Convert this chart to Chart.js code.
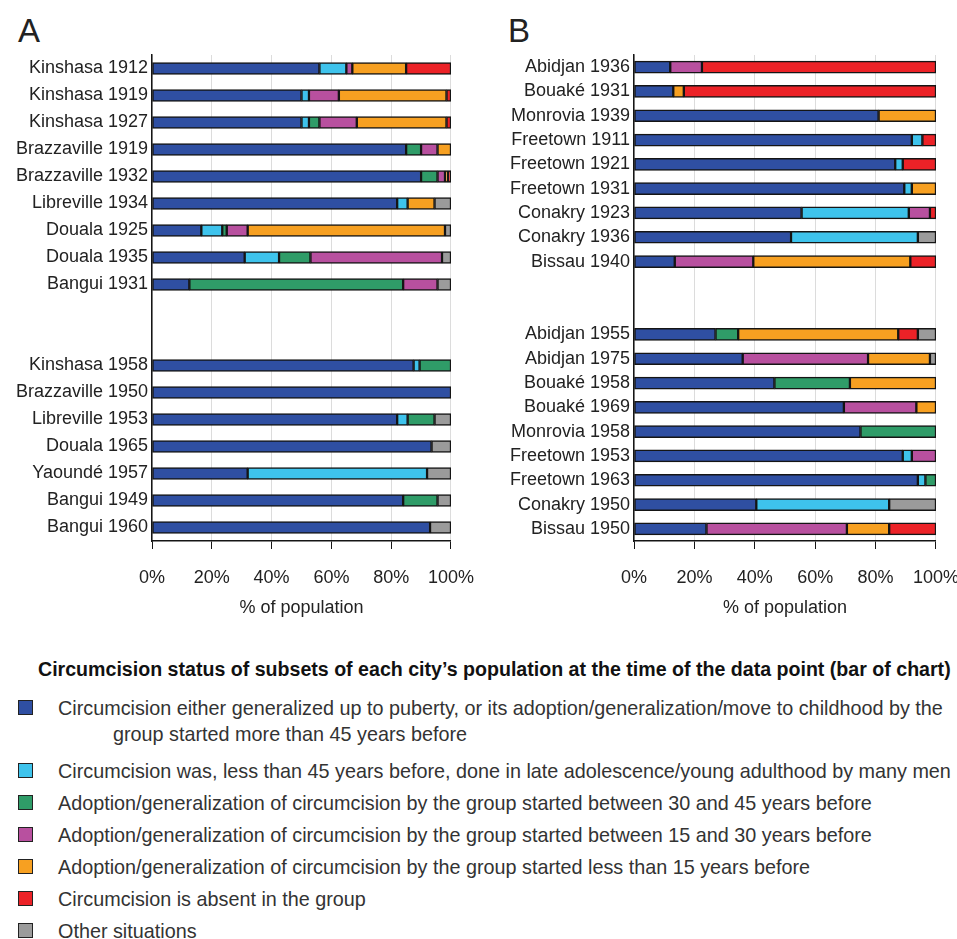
<!DOCTYPE html>
<html>
<head>
<meta charset="utf-8">
<style>
  body { margin: 0; background: #fff; font-family: "Liberation Sans", Arial, sans-serif; }
  #page { position: relative; width: 957px; height: 939px; overflow: hidden; }
  .panel { position: absolute; font-size: 33px; color: #222; }
  canvas { position: absolute; top: 0; }
  #legend { position: absolute; left: 18px; top: 658px; width: 939px; color: #333; font-size: 19.8px; }
  #legend h3 { margin: 0 0 14px 20px; font-size: 19.6px; color: #111; font-weight: bold; white-space: nowrap; }
  .item { position: relative; padding-left: 40px; line-height: 26px; margin-bottom: 6px; white-space: nowrap; }
  .item.first { margin-bottom: 11px; }
  .item .sw { position: absolute; left: 0; top: 5px; width: 13px; height: 13px; border: 1.5px solid #222; }
  .item .second { display: block; padding-left: 55px; }
</style>
</head>
<body>
<div id="page">
  <div class="panel" style="left:18px; top:12px;">A</div>
  <div class="panel" style="left:508px; top:12px;">B</div>
  <canvas id="chartA" width="492" height="619" style="left:0px;"></canvas>
  <canvas id="chartB" width="497" height="619" style="left:480px;"></canvas>
  <div id="legend"></div>
</div>

<script src="https://cdn.jsdelivr.net/npm/chart.js"></script>
<script type="text/javascript">
    // status categories (legend order) and colours
    const statusNames = [
        'Circumcision either generalized up to puberty, or its adoption/generalization/move to childhood by the|group started more than 45 years before',
        'Circumcision was, less than 45 years before, done in late adolescence/young adulthood by many men',
        'Adoption/generalization of circumcision by the group started between 30 and 45 years before',
        'Adoption/generalization of circumcision by the group started between 15 and 30 years before',
        'Adoption/generalization of circumcision by the group started less than 15 years before',
        'Circumcision is absent in the group',
        'Other situations'
    ];
    const statusColors = ['#2f4fa2', '#3ec3ec', '#2f9c68', '#b8509f', '#f7a021', '#ec2227', '#9b9b9b'];

    // panel A (empty labels = gap between periods)
    const citiesA = ['Kinshasa 1912', 'Kinshasa 1919', 'Kinshasa 1927', 'Brazzaville 1919', 'Brazzaville 1932',
        'Libreville 1934', 'Douala 1925', 'Douala 1935', 'Bangui 1931', '', '',
        'Kinshasa 1958', 'Brazzaville 1950', 'Libreville 1953', 'Douala 1965', 'Yaoundé 1957', 'Bangui 1949', 'Bangui 1960'];
    const blueA    = [56, 50, 50, 85, 90, 82, 16.5, 31, 12.5, 0, 0, 87.5, 100, 82, 93.5, 32, 84, 93];
    const cyanA    = [9, 2.5, 2.5, 0, 0, 3.5, 7, 11.5, 0, 0, 0, 2, 0, 3.5, 0, 60, 0, 0];
    const greenA   = [0, 0, 3.5, 5, 5.5, 0, 1.5, 10.5, 71.5, 0, 0, 10.5, 0, 9, 0, 0, 11.5, 0];
    const magentaA = [2, 10, 12.5, 5.5, 2.5, 0, 7, 44, 11.5, 0, 0, 0, 0, 0, 0, 0, 0, 0];
    const orangeA  = [18, 36, 30, 4.5, 1, 9, 66, 0, 0, 0, 0, 0, 0, 0, 0, 0, 0, 0];
    const redA     = [15, 1.5, 1.5, 0, 1, 0, 0, 0, 0, 0, 0, 0, 0, 0, 0, 0, 0, 0];
    const grayA    = [0, 0, 0, 0, 0, 5.5, 2, 3, 4.5, 0, 0, 0, 0, 5.5, 6.5, 8, 4.5, 7];

    // panel B
    const citiesB = ['Abidjan 1936', 'Bouaké 1931', 'Monrovia 1939', 'Freetown 1911', 'Freetown 1921', 'Freetown 1931',
        'Conakry 1923', 'Conakry 1936', 'Bissau 1940', '', '',
        'Abidjan 1955', 'Abidjan 1975', 'Bouaké 1958', 'Bouaké 1969', 'Monrovia 1958', 'Freetown 1953',
        'Freetown 1963', 'Conakry 1950', 'Bissau 1950'];
    const blueB    = [12, 13, 81, 92, 86.5, 89.5, 55.5, 52, 13.5, 0, 0, 27, 36, 46.5, 69.5, 75, 89, 94, 40.5, 24];
    const cyanB    = [0, 0, 0, 3.5, 2.5, 2.5, 35.5, 42, 0, 0, 0, 0, 0, 0, 0, 0, 3, 2.5, 44, 0];
    const greenB   = [0, 0, 0, 0, 0, 0, 0, 0, 0, 0, 0, 7.5, 0, 25, 0, 25, 0, 3.5, 0, 0];
    const magentaB = [10.5, 0, 0, 0, 0, 0, 7, 0, 26, 0, 0, 0, 41.5, 0, 24, 0, 8, 0, 0, 46.5];
    const orangeB  = [0, 3.5, 19, 0, 0, 8, 0, 0, 52, 0, 0, 53, 20.5, 28.5, 6.5, 0, 0, 0, 0, 14];
    const redB     = [77.5, 83.5, 0, 4.5, 11, 0, 2, 0, 8.5, 0, 0, 6.5, 0, 0, 0, 0, 0, 0, 0, 15.5];
    const grayB    = [0, 0, 0, 0, 0, 0, 0, 6, 0, 0, 0, 6, 2, 0, 0, 0, 0, 0, 15.5, 0];

    const xTicks = [0, 20, 40, 60, 80, 100];
    const fontName = '"Liberation Sans", Arial, sans-serif';

    function buildChart(id, labels, series, yWidth) {
        let datasets = series.map((values, i) => ({
            label: statusNames[i].split('|').join(' '),
            data: values.map(v => v === 0 ? null : v),
            backgroundColor: statusColors[i],
            borderColor: '#151515',
            borderWidth: 1.5,
            borderSkipped: false,
            barThickness: 12
        }));
        return new Chart(document.getElementById(id), {
            type: 'bar',
            data: { labels: labels, datasets: datasets },
            options: {
                indexAxis: 'y',
                responsive: false,
                animation: false,
                layout: { padding: { top: 55, right: 0, bottom: 0, left: 0 } },
                plugins: { legend: { display: false }, tooltip: { enabled: false } },
                scales: {
                    x: {
                        stacked: true,
                        min: 0,
                        max: 100,
                        afterBuildTicks: (axis) => { axis.ticks = xTicks.map(v => ({ value: v })); },
                        afterFit: (axis) => { axis.height = 78; },
                        ticks: {
                            callback: (v) => v + '%',
                            color: '#222',
                            padding: 18,
                            maxRotation: 0,
                            font: { family: fontName, size: 18 }
                        },
                        grid: { color: '#dcdcdc', tickColor: '#151515', tickLength: 8, lineWidth: 1 },
                        border: { color: '#151515', width: 1.5 },
                        title: {
                            display: true,
                            text: '% of population',
                            color: '#222',
                            padding: 0,
                            font: { family: fontName, size: 18 }
                        }
                    },
                    y: {
                        stacked: true,
                        afterFit: (axis) => { axis.width = yWidth; },
                        ticks: { color: '#222', padding: 4, autoSkip: false, font: { family: fontName, size: 18 } },
                        grid: { drawOnChartArea: false, drawTicks: false },
                        border: { color: '#151515', width: 1.5 }
                    }
                }
            }
        });
    }

    buildChart('chartA', citiesA, [blueA, cyanA, greenA, magentaA, orangeA, redA, grayA], 152);
    buildChart('chartB', citiesB, [blueB, cyanB, greenB, magentaB, orangeB, redB, grayB], 154);

    // legend below the two panels
    let legend = document.getElementById('legend');
    let h = document.createElement('h3');
    h.textContent = 'Circumcision status of subsets of each city\u2019s population at the time of the data point (bar of chart)';
    legend.appendChild(h);
    statusNames.forEach((name, i) => {
        let div = document.createElement('div');
        div.className = i === 0 ? 'item first' : 'item';
        let sw = document.createElement('span');
        sw.className = 'sw';
        sw.style.background = statusColors[i];
        div.appendChild(sw);
        let parts = name.split('|');
        div.appendChild(document.createTextNode(parts[0]));
        if (parts[1]) {
            let s = document.createElement('span');
            s.className = 'second';
            s.textContent = parts[1];
            div.appendChild(s);
        }
        legend.appendChild(div);
    });
</script>
</body>
</html>
